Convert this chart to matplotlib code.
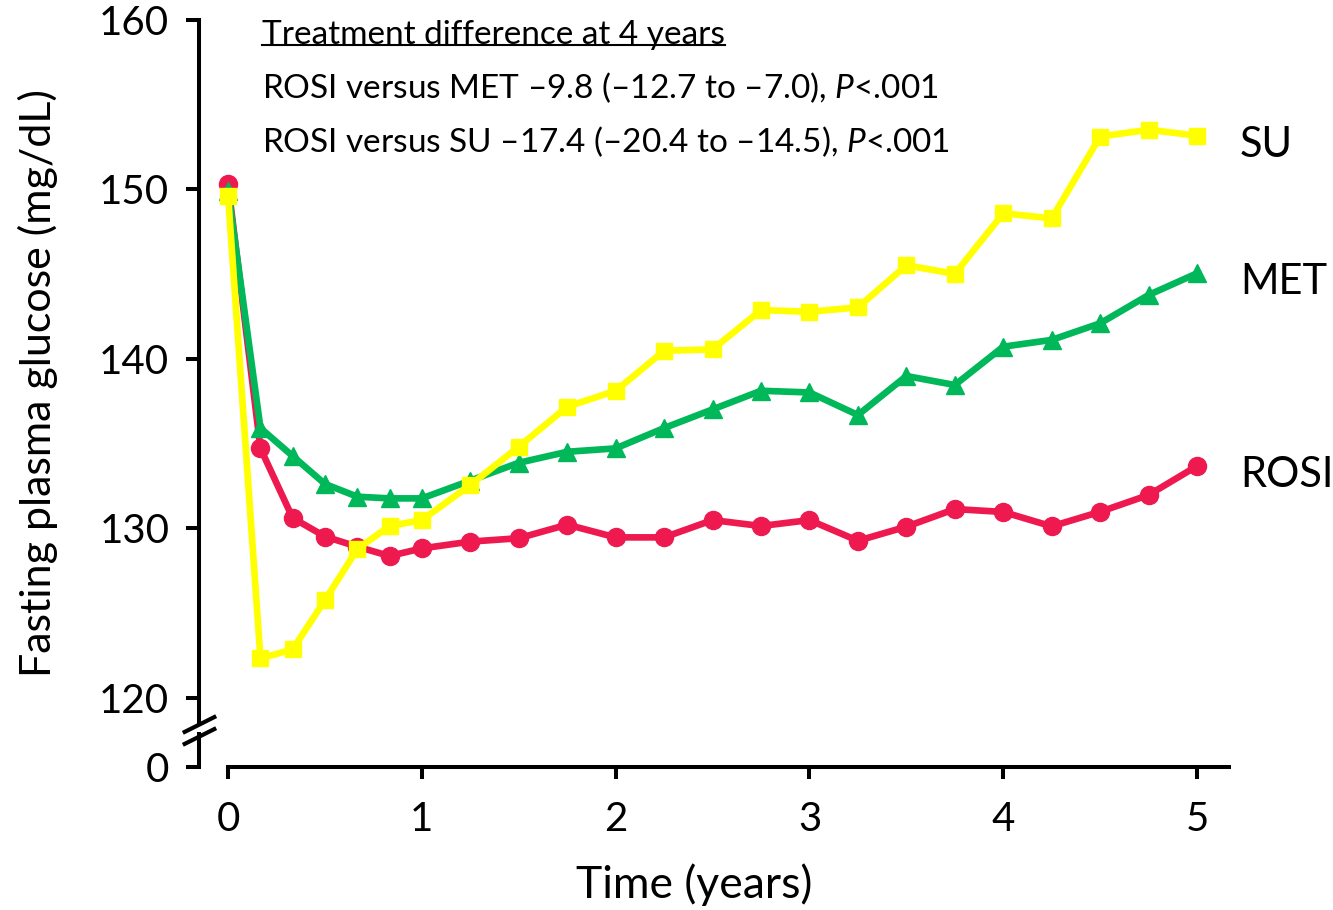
import matplotlib
matplotlib.use('Agg')
import matplotlib.pyplot as plt
from matplotlib.lines import Line2D
from matplotlib.transforms import IdentityTransform

plt.rcParams['font.family'] = ['Lato', 'DejaVu Sans']
plt.rcParams['mathtext.fontset'] = 'custom'
plt.rcParams['mathtext.rm'] = 'Lato'
plt.rcParams['mathtext.it'] = 'Lato:italic'

# visit times (years) and mean fasting plasma glucose (mg/dL) per arm
years = [0, 0.167, 0.333, 0.5, 0.667, 0.833, 1, 1.25, 1.5, 1.75, 2, 2.25, 2.5,
         2.75, 3, 3.25, 3.5, 3.75, 4, 4.25, 4.5, 4.75, 5]
rosi = [150.3, 134.7, 130.6, 129.5, 128.9, 128.35, 128.8, 129.2, 129.4, 130.2,
        129.45, 129.45, 130.47, 130.12, 130.47, 129.25, 130.08, 131.12, 130.95,
        130.1, 130.96, 131.95, 133.66]
met = [149.9, 135.9, 134.25, 132.6, 131.85, 131.75, 131.75, 132.8, 133.85, 134.5,
       134.7, 135.9, 137.0, 138.1, 138.0, 136.67, 138.97, 138.44, 140.7, 141.1,
       142.08, 143.75, 145.03]
su = [149.6, 122.31, 122.84, 125.75, 128.76, 130.12, 130.47, 132.54, 134.8, 137.16,
      138.1, 140.46, 140.54, 142.86, 142.76, 143.02, 145.5, 145.0, 148.57, 148.27,
      153.1, 153.5, 153.15]

series_names = ['ROSI', 'MET', 'SU']
series_colors = ['#EE1A4F', '#00B85A', '#FFFF00']
series_markers = ['o', '^', 's']
series_msize = [13, 13, 11]

x_ticks = [0, 1, 2, 3, 4, 5]
y_ticks = [120, 130, 140, 150, 160]
y_zero_pos = 115.9   # where the "0" tick sits below the axis break

header = 'Treatment difference at 4 years'
comparisons = [
    'ROSI versus MET \u20139.8 (\u201312.7 to \u20137.0), $\\it{P}$<.001',
    'ROSI versus SU \u201317.4 (\u201320.4 to \u201314.5), $\\it{P}$<.001',
]

fig = plt.figure(figsize=(13.33, 9.10), dpi=100)
ax = fig.add_axes([0.1493, 0.1571, 0.7727, 0.8214])
x_left, x_right = -0.15, 5.165
ax.set_xlim(x_left, x_right)
ax.set_ylim(y_zero_pos, 160)

for vals, name, col, mk, ms, z in zip([rosi, met, su], series_names, series_colors,
                                      series_markers, series_msize, [3, 4, 5]):
    ax.plot(years, vals, color=col, lw=4.8, marker=mk, ms=ms, mec=col, mfc=col,
            zorder=z, clip_on=False)
    ax.annotate(name, xy=(years[-1], vals[-1]), xytext=(31, -15),
                textcoords='offset points', fontsize=30, va='baseline', ha='left')

for s in ['top', 'right']:
    ax.spines[s].set_visible(False)
ax.spines['left'].set_linewidth(2.9)
ax.spines['bottom'].set_linewidth(2.9)
ax.spines['bottom'].set_bounds(0, x_right)

ax.set_xticks(x_ticks)
ax.set_xticklabels([str(v) for v in x_ticks])
ax.set_yticks([y_zero_pos] + y_ticks)
ax.set_yticklabels(['0'] + [str(v) for v in y_ticks])
ax.tick_params(axis='y', length=9.4, width=2.9, pad=12, labelsize=29)
ax.tick_params(axis='x', length=8.6, width=2.9, pad=16, labelsize=29)

ax.set_xlabel('Time (years)', fontsize=32)
ax.xaxis.set_label_coords(0.4806, -0.158)
ax.xaxis.label.set_va('center')
ax.set_ylabel('Fasting plasma glucose (mg/dL)', fontsize=31)
ax.yaxis.set_label_coords(-0.156, 0.514)
ax.yaxis.label.set_va('center')

# axis break on the y spine
ax.plot([x_left, x_left], [117.95, 118.3], color='white', lw=7,
        solid_capstyle='butt', clip_on=False, zorder=8)
ax.plot([x_left, x_left], [117.75, 118.45], ls='none',
        marker=[(-1, -0.5), (1, 0.5)], ms=24, mew=3.0, mec='black', mfc='none',
        clip_on=False, zorder=9)

# header block with the treatment differences
title = ax.text(0.175, 159.1, header, fontsize=24, va='center', ha='left')
ax.text(0.175, 156.0, comparisons[0], fontsize=24, va='center', ha='left')
ax.text(0.175, 152.8, comparisons[1], fontsize=24, va='center', ha='left')

fig.canvas.draw()
bb = title.get_window_extent()
uy = bb.y0 + 0.17 * bb.height
fig.add_artist(Line2D([bb.x0, bb.x1], [uy, uy], transform=IdentityTransform(),
                      color='black', lw=1.5))

fig.savefig('out.png', dpi=100)
